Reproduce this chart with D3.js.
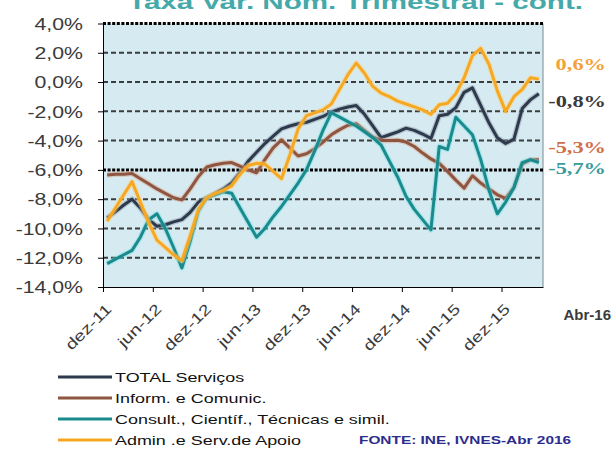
<!DOCTYPE html>
<html>
<head>
<meta charset="utf-8">
<script src="https://cdn.jsdelivr.net/npm/d3@7"></script>
<style>
  body { margin: 0; background: #fff; }
  svg { display: block; font-family: "Liberation Sans", Arial, sans-serif; }
</style>
</head>
<body>
<svg id="chart" width="615" height="451"></svg>
<script>
// categorias mensais (dez-11 .. abr-16)
const months = ["dez-11","jan-12","fev-12","mar-12","abr-12","mai-12","jun-12","jul-12","ago-12","set-12","out-12","nov-12",
  "dez-12","jan-13","fev-13","mar-13","abr-13","mai-13","jun-13","jul-13","ago-13","set-13","out-13","nov-13",
  "dez-13","jan-14","fev-14","mar-14","abr-14","mai-14","jun-14","jul-14","ago-14","set-14","out-14","nov-14",
  "dez-14","jan-15","fev-15","mar-15","abr-15","mai-15","jun-15","jul-15","ago-15","set-15","out-15","nov-15",
  "dez-15","jan-16","fev-16","mar-16","abr-16"];
const tickLabels = ["dez-11","jun-12","dez-12","jun-13","dez-13","jun-14","dez-14","jun-15","dez-15"];
const tickIndex = [0, 6, 12, 18, 24, 30, 36, 42, 48];
const yTicks = [-14, -12, -10, -8, -6, -4, -2, 0, 2, 4];

const seriesNames = ["TOTAL Serviços", "Inform. e Comunic.", "Consult., Científ., Técnicas e simil.", "Admin .e Serv.de Apoio"];
const seriesColors = ["#2d3a4c", "#8e5540", "#1b8a8c", "#f6a823"];
const haloColors = ["#8a94a4", "#d9a58a", "#6fe0e6", "#ffd27a"];

const total = [-9.3,-8.85,-8.4,-8.0,-8.6,-9.4,-9.85,-9.75,-9.55,-9.4,-8.9,-8.2,
  -7.9,-7.6,-7.3,-6.9,-6.2,-5.4,-4.8,-4.2,-3.7,-3.2,-3.0,-2.85,
  -2.75,-2.55,-2.35,-2.05,-1.85,-1.7,-1.6,-2.2,-3.0,-3.8,-3.6,-3.4,
  -3.15,-3.3,-3.55,-3.85,-2.3,-2.2,-1.75,-0.7,-0.4,-1.6,-2.8,-3.8,
  -4.2,-3.9,-1.8,-1.2,-0.8];
const inform = [-6.35,-6.3,-6.3,-6.25,-6.6,-6.95,-7.3,-7.6,-7.9,-8.05,-7.3,-6.45,
  -5.8,-5.65,-5.55,-5.5,-5.75,-6.0,-6.2,-5.3,-4.5,-3.95,-4.5,-5.05,
  -4.9,-4.55,-4.1,-3.6,-3.25,-2.95,-2.85,-3.3,-3.75,-4.0,-4.0,-3.97,
  -4.1,-4.4,-4.85,-5.25,-5.55,-6.1,-6.7,-7.25,-6.4,-6.9,-7.3,-7.7,
  -7.95,-7.2,-5.6,-5.3,-5.3];
const consult = [-12.4,-12.1,-11.8,-11.5,-10.6,-9.4,-9.0,-10.0,-11.3,-12.7,-10.9,-8.8,
  -7.9,-7.7,-7.5,-7.6,-8.6,-9.6,-10.6,-10.0,-9.2,-8.5,-7.7,-6.9,
  -6.0,-4.7,-3.3,-2.1,-2.4,-2.7,-3.0,-3.4,-3.8,-4.3,-5.4,-6.5,
  -7.8,-8.7,-9.4,-10.1,-4.4,-4.6,-2.4,-3.0,-3.6,-5.3,-7.4,-9.0,
  -8.2,-7.2,-5.5,-5.3,-5.5];
const admin = [-9.5,-8.6,-7.7,-6.8,-8.2,-9.6,-10.8,-11.3,-11.8,-12.2,-10.5,-8.7,
  -7.9,-7.6,-7.4,-7.1,-6.3,-5.7,-5.55,-5.6,-6.1,-6.6,-5.0,-3.2,
  -2.3,-2.1,-1.9,-1.5,-0.5,0.5,1.3,0.6,-0.3,-0.75,-1.0,-1.3,
  -1.5,-1.7,-1.9,-2.2,-1.55,-1.45,-0.8,0.3,1.8,2.3,1.2,-0.6,
  -2.0,-1.0,-0.5,0.3,0.2];

const endLabels = ["0,6%", "-0,8%", "-5,3%", "-5,7%"];
const endLabelY = [64, 101, 147, 168];
const endLabelColors = ["#f2a33a", "#3a3a3a", "#d0704a", "#3a9c9c"];

const series = [total, inform, consult, admin];

// a imagem original está esticada na horizontal
const SX = 1.38;

const svg = d3.select('#chart');
const plotLeft = 103, plotRight = 543, plotTop = 23.5, plotBottom = 287;

const x = d3.scaleLinear().domain([0, months.length]).range([plotLeft, plotRight]);
const y = d3.scaleLinear().domain([-14, 4]).range([plotBottom, plotTop]);

// título (cortado no topo, como no original)
svg.append('text')
  .attr('x', 128).attr('y', 9)
  .attr('textLength', 455).attr('lengthAdjust', 'spacingAndGlyphs')
  .style('font-size', '21px').style('font-weight', 'bold')
  .style('fill', '#45a9aa')
  .text('Taxa Var. Nom. Trimestral - cont.');

// fundo da área do gráfico
svg.append('rect')
  .attr('x', plotLeft).attr('y', plotTop)
  .attr('width', plotRight - plotLeft).attr('height', plotBottom - plotTop)
  .attr('fill', '#d6eaf1');
svg.append('line')
  .attr('x1', plotRight).attr('x2', plotRight).attr('y1', plotTop).attr('y2', plotBottom)
  .attr('stroke', '#7d8a90').attr('stroke-width', 1);

// linhas de grelha
svg.append('g').selectAll('line')
  .data(yTicks.filter(d => d > -14))
  .enter().append('line')
  .attr('x1', plotLeft).attr('x2', plotRight)
  .attr('y1', d => y(d)).attr('y2', d => y(d))
  .attr('stroke', d => (d === 4 || d === -6) ? '#000' : '#3c3c3c')
  .attr('stroke-width', d => (d === 4 || d === -6) ? 3 : 2)
  .attr('stroke-dasharray', d => (d === 4 || d === -6) ? '3,1.6' : '5,3');

// eixo y
const yAxis = svg.append('g')
  .attr('transform', 'translate(' + plotLeft + ',0)')
  .call(d3.axisLeft(y).tickValues(yTicks).tickSize(5).tickSizeOuter(0)
    .tickFormat(d => d.toFixed(1).replace('.', ',') + '%'));
yAxis.select('.domain').attr('stroke', '#000');
yAxis.selectAll('.tick line').attr('stroke', '#000');
yAxis.selectAll('.tick text')
  .attr('x', -20 / 1.33).attr('dy', '0.36em')
  .attr('transform', 'scale(1.33,1)')
  .style('font-size', '16px').style('fill', '#3a3a3a');

// eixo x
const xAxis = svg.append('g')
  .attr('transform', 'translate(0,' + plotBottom + ')')
  .call(d3.axisBottom(x).tickValues(tickIndex).tickSize(5).tickSizeOuter(0)
    .tickFormat((d, i) => tickLabels[i]));
xAxis.select('.domain').attr('stroke', '#000');
xAxis.selectAll('.tick line').attr('stroke', '#000');
xAxis.selectAll('.tick text')
  .attr('x', 0).attr('y', 0).attr('dy', 0)
  .attr('text-anchor', 'end')
  .attr('transform', 'translate(9,23) rotate(-45) scale(1.3,1)')
  .style('font-size', '15px').style('fill', '#3a3a3a');

svg.append('text')
  .attr('x', 611).attr('y', 320)
  .attr('text-anchor', 'end')
  .style('font-size', '15px').style('font-weight', 'bold').style('fill', '#3a3a3a')
  .text('Abr-16');

// linhas das séries
const line = d3.line()
  .defined(v => v != null)
  .x((v, i) => x(i + 0.5))
  .y(v => y(v));

const lines = svg.append('g');
series.forEach((s, k) => {
  lines.append('path')
    .attr('d', line(s))
    .attr('fill', 'none')
    .attr('stroke', haloColors[k])
    .attr('stroke-width', 5.5)
    .attr('stroke-opacity', 0.45)
    .attr('stroke-linejoin', 'round');
  lines.append('path')
    .attr('d', line(s))
    .attr('fill', 'none')
    .attr('stroke', seriesColors[k])
    .attr('stroke-width', 3)
    .attr('stroke-linejoin', 'round');
});

// rótulos finais
svg.append('g').selectAll('text')
  .data(endLabels)
  .enter().append('text')
  .attr('text-anchor', 'end')
  .attr('transform', (d, i) => 'translate(606,' + (endLabelY[i] + 6) + ') scale(1.4,1)')
  .style('font-family', '"Liberation Serif", serif')
  .style('font-size', '16px').style('font-weight', 'bold')
  .style('fill', (d, i) => endLabelColors[i])
  .text(d => d);

// legenda
const legendY = [377, 398, 419, 440];
const legend = svg.append('g');
seriesNames.forEach((name, k) => {
  legend.append('line')
    .attr('x1', 58).attr('x2', 112)
    .attr('y1', legendY[k]).attr('y2', legendY[k])
    .attr('stroke', seriesColors[k]).attr('stroke-width', 3);
  legend.append('text')
    .attr('transform', 'translate(115,' + (legendY[k] + 5) + ') scale(' + SX + ',1)')
    .style('font-size', '13px').style('fill', '#111')
    .text(name);
});

svg.append('text')
  .attr('transform', 'translate(359,' + (legendY[3] + 4) + ') scale(1.4,1)')
  .style('font-size', '11px').style('font-weight', 'bold').style('fill', '#2c2c8c')
  .text('FONTE: INE, IVNES-Abr 2016');
</script>
</body>
</html>
